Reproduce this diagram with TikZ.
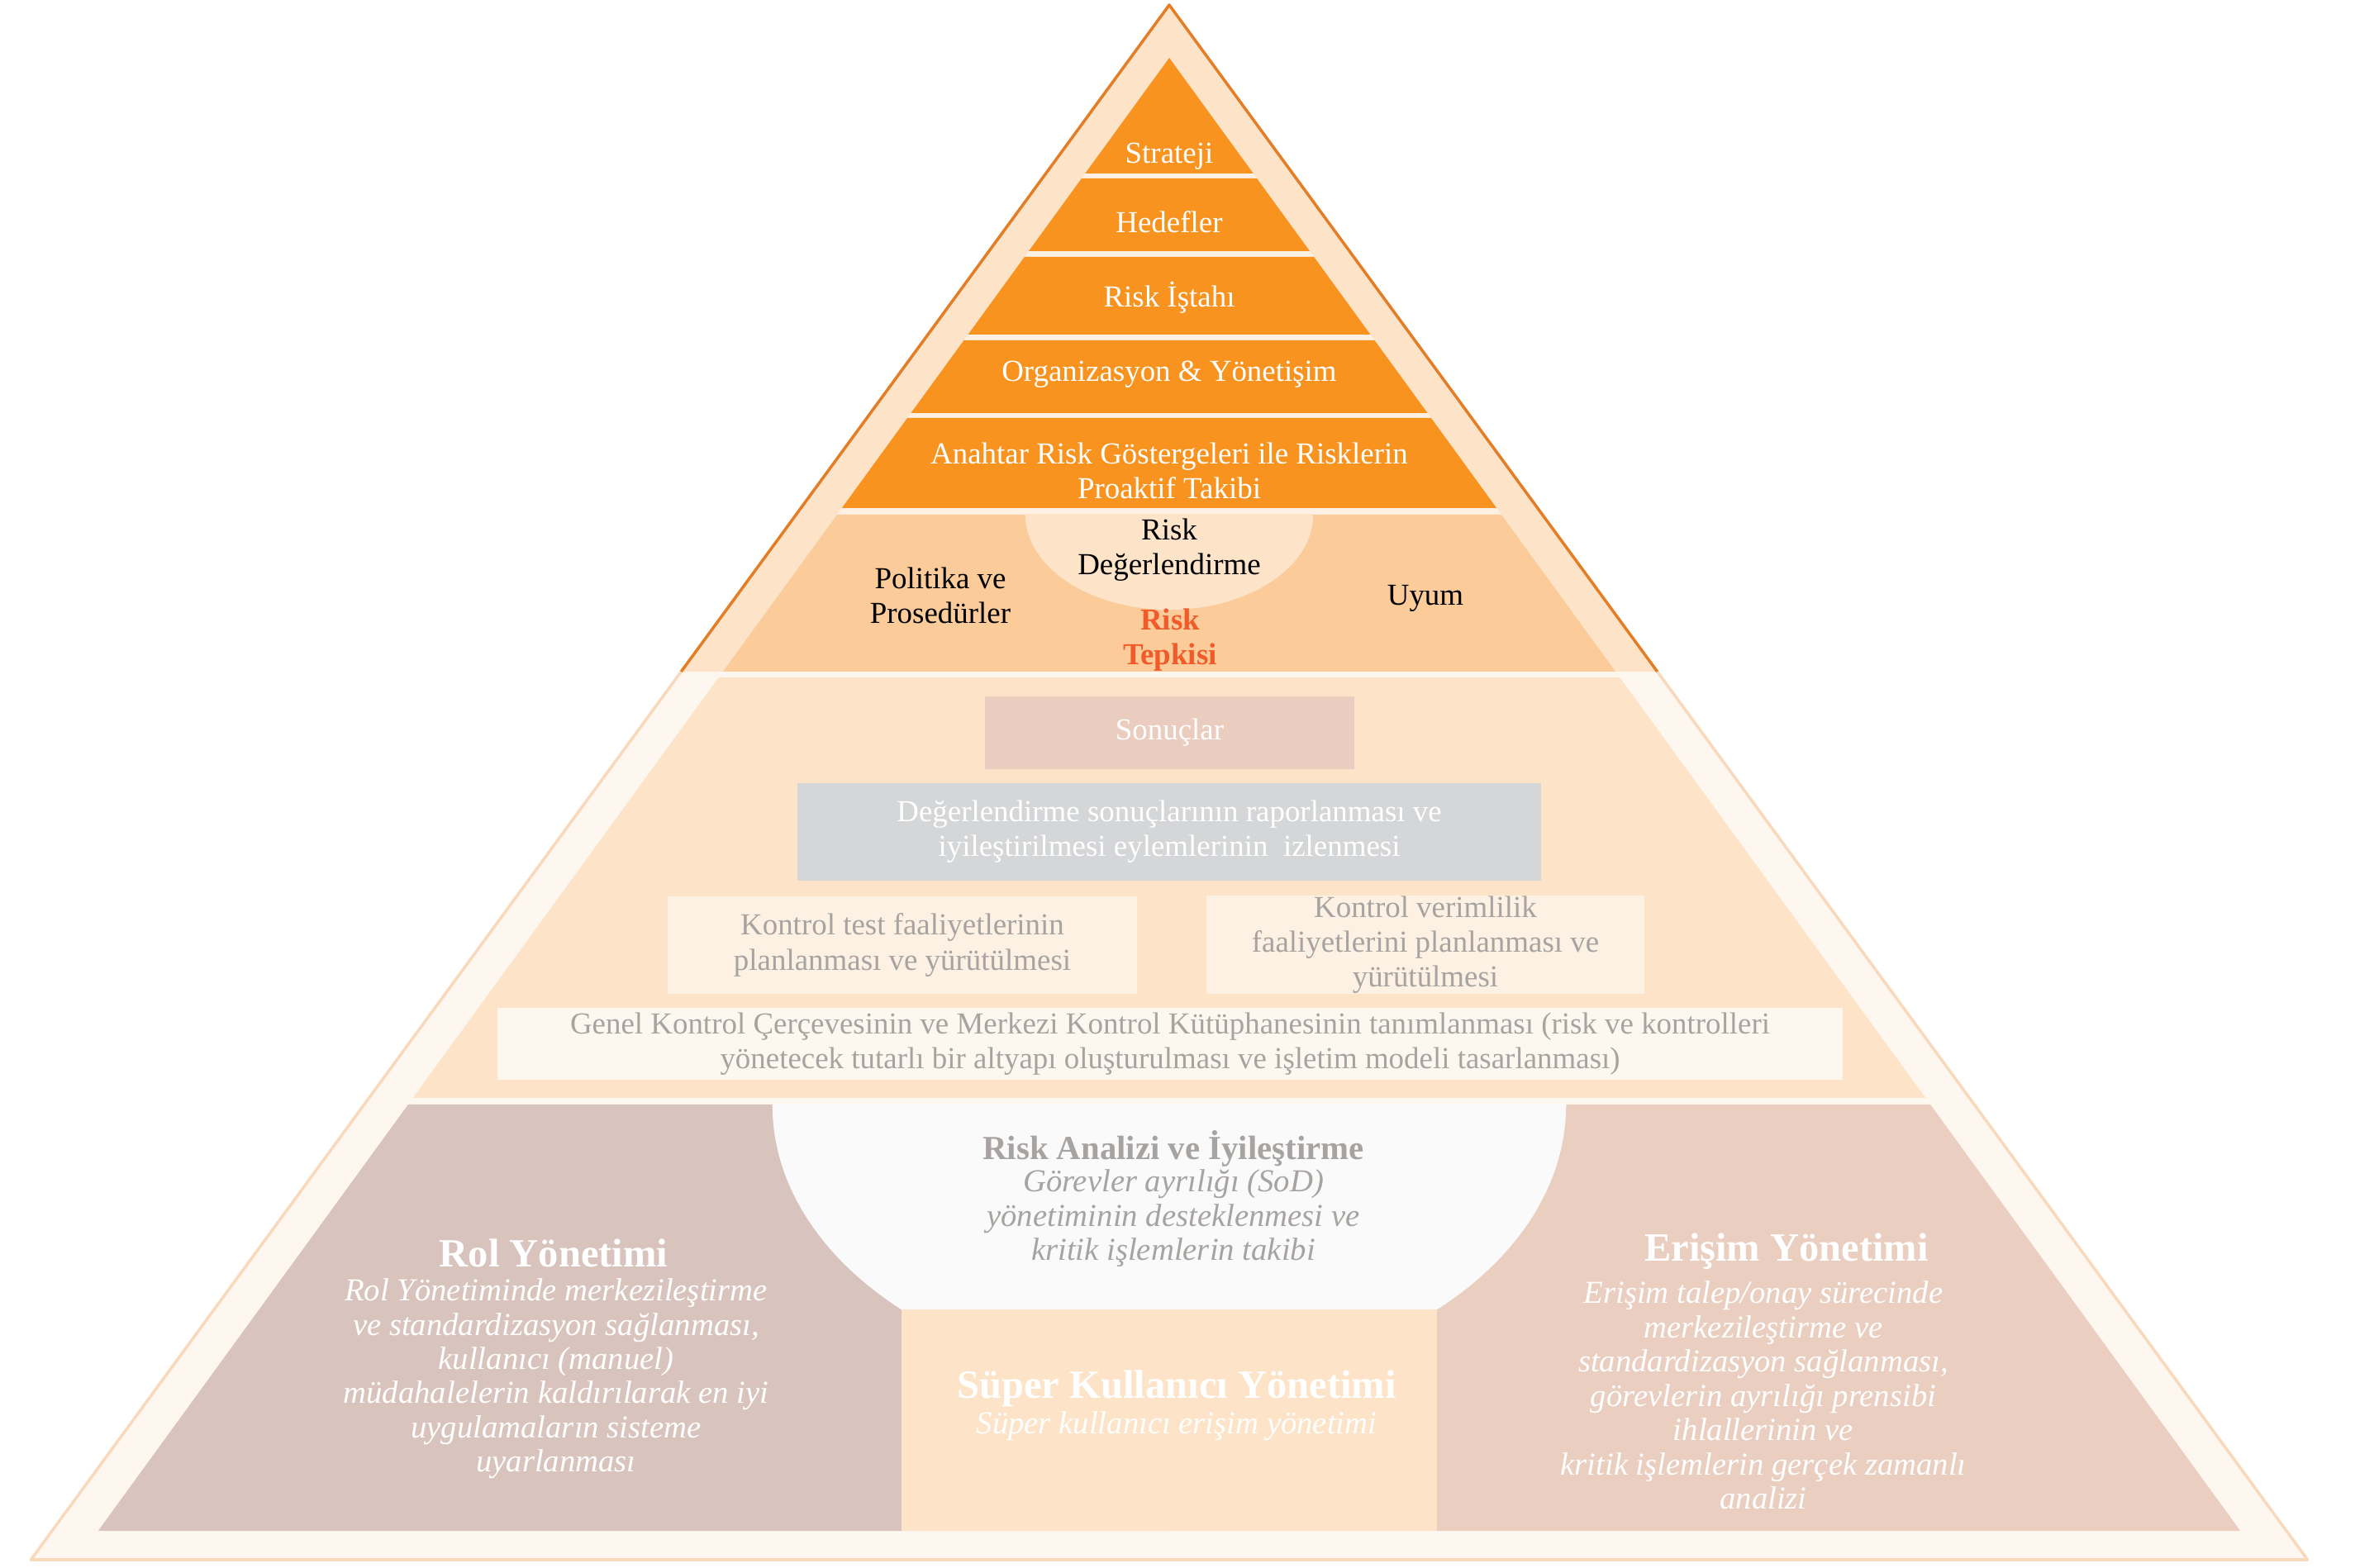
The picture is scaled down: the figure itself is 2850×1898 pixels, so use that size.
\documentclass[tikz,border=0pt]{standalone}
\usepackage{fontspec}
\setmainfont{Liberation Serif}
\usetikzlibrary{positioning}

\definecolor{turuncu}{HTML}{F7931E}
\definecolor{koyuturuncu}{HTML}{E37D26}
\definecolor{acikturuncu}{HTML}{FBCB99}
\definecolor{seftali}{HTML}{FDE4C9}
\definecolor{aralik}{HTML}{FEF0E3}
\definecolor{krem}{HTML}{FEF7F0}
\definecolor{kenar}{HTML}{F8D9BB}
\definecolor{sonuc}{HTML}{EACDBE}
\definecolor{grikutu}{HTML}{D5D6D8}
\definecolor{acikkutu}{HTML}{FDF1E4}
\definecolor{rol}{HTML}{D9C4BD}
\definecolor{erisim}{HTML}{EACEC0}
\definecolor{kase}{HTML}{FAFAFA}
\definecolor{yazigri}{HTML}{A6A3A1}
\definecolor{kirmizi}{HTML}{F15A29}

\begin{document}
\begin{tikzpicture}[x=0.01cm, y=-0.01cm]
  % Stiller
  \tikzstyle{yazi} = [inner sep=0pt, align=center, yshift=-0.04cm, font=\fontsize{10.5}{12}\selectfont]
  \tikzstyle{ustyazi} = [yazi, text=white]
  \tikzstyle{kutu} = [yazi, yshift=0.04cm, rectangle, text=yazigri, fill=acikkutu]
  \tikzstyle{baslik} = [inner sep=0pt, align=center, text=white, yshift=-0.02cm,
    font=\bfseries\fontsize{13.8}{16}\selectfont]
  \tikzstyle{aciklama} = [inner sep=0pt, align=center, text=white, yshift=-0.02cm,
    font=\itshape\fontsize{11}{11.8}\selectfont]

  \useasboundingbox (0,0) rectangle (2850,1898);

  % Dis cerceve
  \fill[krem] (824.3,813) -- (2005.7,813) -- (2792.6,1888) -- (37.4,1888) -- cycle;
  \draw[kenar, line width=1pt, line join=round] (824.3,813) -- (37.4,1888) -- (2792.6,1888) -- (2005.7,813);
  \fill[seftali] (1415,6) -- (2005.7,813) -- (824.3,813) -- cycle;
  \draw[koyuturuncu, line width=1pt, line join=round] (824.3,813) -- (1415,6) -- (2005.7,813);

  % Turuncu katmanlar
  \fill[aralik] (1415,70) -- (1955.2,813) -- (874.8,813) -- cycle;
  \fill[turuncu] (1415,70) -- (1516.8,210) -- (1313.2,210) -- cycle;
  \fill[turuncu] (1308.9,216) -- (1521.1,216) -- (1585.1,304) -- (1244.9,304) -- cycle;
  \fill[turuncu] (1239.8,311) -- (1590.2,311) -- (1658.5,405) -- (1171.5,405) -- cycle;
  \fill[turuncu] (1166.4,412) -- (1663.6,412) -- (1727.6,500) -- (1102.4,500) -- cycle;
  \fill[turuncu] (1098,506) -- (1732,506) -- (1811.2,615) -- (1018.8,615) -- cycle;
  \fill[acikturuncu] (1013,623) -- (1817,623) -- (1955.2,813) -- (874.8,813) -- cycle;
  \begin{scope}
    \clip (1013,623) rectangle (1817,813);
    \fill[seftali] (1415,623) ellipse [x radius=1.74cm, y radius=1.15cm];
  \end{scope}

  % Orta katman
  \fill[seftali] (869.7,820) -- (1960.3,820) -- (2330.3,1329) -- (499.7,1329) -- cycle;

  % Alt katman
  \fill[rol] (493.9,1337) -- (1415,1337) -- (1415,1853) -- (118.8,1853) -- cycle;
  \fill[erisim] (1415,1337) -- (2336.1,1337) -- (2711.2,1853) -- (1415,1853) -- cycle;
  \begin{scope}
    \clip (900,1337) rectangle (1930,1585);
    \fill[kase] (1415,1337) ellipse [x radius=4.8cm, y radius=3.36cm];
  \end{scope}
  \fill[seftali] (1091,1585) rectangle (1739,1853);

  % Ust yazilar
  \node[ustyazi] (strateji) at (1415,185) {Strateji};
  \node[ustyazi] (hedef) at (1415,265) {Hedefler};
  \node[ustyazi] (istah) at (1415,356) {Risk İştahı};
  \node[ustyazi] (org) at (1415,449) {Organizasyon \& Yönetişim};
  \node[ustyazi] (anahtar) at (1415,566) {Anahtar Risk Göstergeleri ile Risklerin\\Proaktif Takibi};

  \node[yazi] (degr) at (1415,662) {Risk\\Değerlendirme};
  \node[yazi] (politika) at (1138,717) {Politika ve\\Prosedürler};
  \node[yazi] (uyum) at (1725,720) {Uyum};
  \node[yazi, text=kirmizi, font=\bfseries\fontsize{10.5}{12}\selectfont] (tepki) at (1416,771) {Risk\\Tepkisi};

  % Orta kutular
  \node[kutu, fill=sonuc, text=white, minimum width=4.47cm, minimum height=0.88cm] (sonuclar) at (1415.5,887) {Sonuçlar};
  \node[kutu, fill=grikutu, text=white, minimum width=9cm, minimum height=1.18cm] (rapor) at (1415,1007)
    {Değerlendirme sonuçlarının raporlanması ve\\iyileştirilmesi eylemlerinin\ \ izlenmesi};
  \node[kutu, minimum width=5.68cm, minimum height=1.18cm] (test) at (1092,1144)
    {Kontrol test faaliyetlerinin\\planlanması ve yürütülmesi};
  \node[kutu, minimum width=5.3cm, minimum height=1.19cm] (verim) at (1725,1143.5)
    {Kontrol verimlilik\\faaliyetlerini planlanması ve\\yürütülmesi};
  \node[kutu, fill=krem, minimum width=16.28cm, minimum height=0.87cm] (genel) at (1416,1263.5)
    {Genel Kontrol Çerçevesinin ve Merkezi Kontrol Kütüphanesinin tanımlanması (risk ve kontrolleri\\yönetecek tutarlı bir altyapı oluşturulması ve işletim modeli tasarlanması)};

  % Alt yazilar
  \node[baslik] (rolb) at (670,1515) {Rol Yönetimi};
  \node[aciklama] (rola) at (673,1667) {Rol Yönetiminde merkezileştirme\\ve standardizasyon sağlanması,\\kullanıcı (manuel)\\müdahalelerin kaldırılarak en iyi\\uygulamaların sisteme\\uyarlanması};

  \node[baslik, text=yazigri, font=\bfseries\fontsize{11.6}{14}\selectfont] (analizb) at (1420,1388) {Risk Analizi ve İyileştirme};
  \node[aciklama, text=yazigri] (analiza) at (1420,1473) {Görevler ayrılığı (SoD)\\yönetiminin desteklenmesi ve\\kritik işlemlerin takibi};

  \node[baslik] (superb) at (1424,1679) {Süper Kullanıcı Yönetimi};
  \node[aciklama] (supera) at (1424,1724) {Süper kullanıcı erişim yönetimi};

  \node[baslik] (erisimb) at (2162,1513) {Erişim Yönetimi};
  \node[aciklama] (erisima) at (2134,1687) {Erişim talep/onay sürecinde\\merkezileştirme ve\\standardizasyon sağlanması,\\görevlerin ayrılığı prensibi\\ihlallerinin ve\\kritik işlemlerin gerçek zamanlı\\analizi};
\end{tikzpicture}
\end{document}
